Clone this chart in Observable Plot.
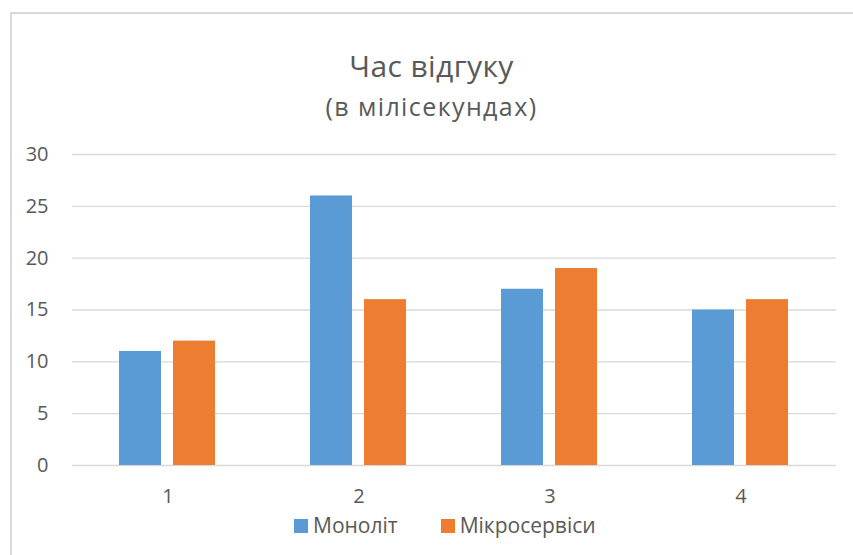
<!DOCTYPE html>
<html>
<head>
<meta charset="utf-8">
<script src="https://cdn.jsdelivr.net/npm/d3@7"></script>
<script src="https://cdn.jsdelivr.net/npm/@observablehq/plot@0.6"></script>
<style>
  html, body { margin: 0; padding: 0; background: #fff; overflow: hidden; }
  #wrap { position: relative; width: 853px; height: 555px; overflow: hidden; font-family: "Open Sans", sans-serif; color: #595959; }
  #frame { position: absolute; left: 10px; top: 12px; width: 900px; height: 600px; border: 2px solid #d9d9d9; box-sizing: border-box; }
  #title { position: absolute; left: 0; width: 863px; top: 46px; text-align: center; font-size: 30px; line-height: 40px; letter-spacing: 0.4px; }
  #subtitle { position: absolute; left: 0; width: 863px; top: 89px; text-align: center; font-size: 25px; line-height: 34px; letter-spacing: 1.4px; }
  #chart { position: absolute; left: 0; top: 0; }
  #legend { position: absolute; top: 510px; left: 294px; display: flex; align-items: center; font-size: 21px; line-height: 30px; }
  .item { display: flex; align-items: center; }
  .sw { width: 14px; height: 14px; margin-right: 5px; margin-top: 2px; }
</style>
</head>
<body>
<div id="wrap">
  <div id="frame"></div>
  <div id="title">Час відгуку</div>
  <div id="subtitle">(в мілісекундах)</div>
  <div id="chart"></div>
  <div id="legend"></div>
</div>
<script>
const categories = ["1", "2", "3", "4"];
const seriesNames = ["Моноліт", "Мікросервіси"];
const monolith = [11, 26, 17, 15];
const microservices = [12, 16, 19, 16];
const colors = ["#5B9BD5", "#ED7D31"];
const yTicks = [0, 5, 10, 15, 20, 25, 30];

const data = [];
categories.forEach((c, i) => {
  data.push({category: c, series: seriesNames[0], value: monolith[i]});
  data.push({category: c, series: seriesNames[1], value: microservices[i]});
});

const chart = Plot.plot({
  width: 853,
  height: 555,
  marginLeft: 70,
  marginRight: 16,
  marginTop: 154,
  marginBottom: 90,
  style: {fontFamily: "'Open Sans', sans-serif", fontSize: "20px", color: "#595959", background: "transparent"},
  fx: {domain: categories, padding: 0, label: null, axis: null},
  x: {domain: seriesNames, paddingInner: 0.218, paddingOuter: 0.855, axis: null},
  y: {domain: [0, 30], ticks: yTicks, label: null, axis: null},
  color: {domain: seriesNames, range: colors},
  marks: [
    Plot.ruleY(yTicks, {y: d => d, stroke: "#d9d9d9", strokeWidth: 1.3}),
    Plot.axisY(yTicks, {tickSize: 0, tickPadding: 24, fontSize: 20, fill: "#595959", label: null}),
    Plot.axisFx({anchor: "bottom", tickSize: 0, tickPadding: 23, fontSize: 20, fill: "#595959", label: null}),
    Plot.barY(data, {fx: "category", x: "series", y: "value", fill: "series"})
  ]
});
document.getElementById("chart").appendChild(chart);

const legend = document.getElementById("legend");
seriesNames.forEach((name, i) => {
  const item = document.createElement("div");
  item.className = "item";
  item.style.marginRight = i === 0 ? "43px" : "0";
  const sw = document.createElement("div");
  sw.className = "sw";
  sw.style.background = colors[i];
  const t = document.createElement("span");
  t.textContent = name;
  item.appendChild(sw);
  item.appendChild(t);
  legend.appendChild(item);
});
</script>
</body>
</html>
